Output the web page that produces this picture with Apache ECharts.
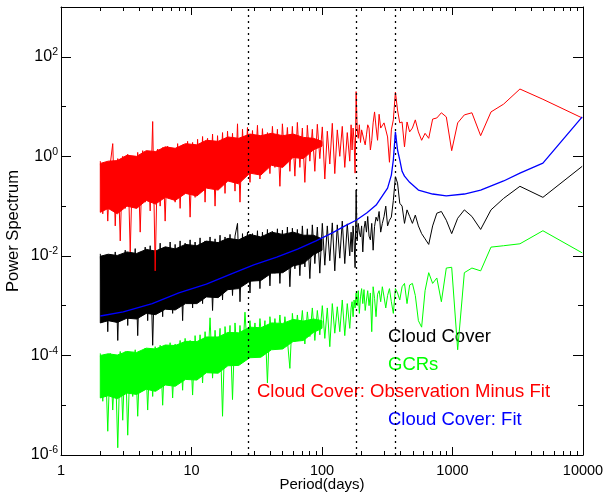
<!DOCTYPE html>
<html><head><meta charset="utf-8">
<script src="https://cdn.jsdelivr.net/npm/echarts@6/dist/echarts.min.js"></script>
<style>html,body{margin:0;padding:0;background:#fff}#c{width:607px;height:495px}</style>
</head><body><div id="c"></div>
<script>
// Periods (days): densely sampled short-period band, then the individual long-period Fourier bins
const densePeriods = [2,2.09,2.184,2.282,2.385,2.492,2.604,2.722,2.844,2.972,
3.106,3.246,3.392,3.545,3.704,3.871,4.045,4.227,4.417,4.616,
4.824,5.041,5.268,5.505,5.753,6.012,6.282,6.565,6.86,7.169,
7.492,7.829,8.181,8.549,8.934,9.336,9.756,10.195,10.654,11.133,
11.634,12.158,12.705,13.277,13.874,14.498,15.151,15.833,16.545,17.29,
18.068,18.881,19.731,20.619,21.546,22.516,23.529,24.588,25.694,26.85,
28.059,29.322,30.641,32.02,33.461,34.967,36.54,38.184,39.903,41.699,
43.575,45.536,47.585,49.726,51.964,54.302,56.746,59.3,61.968,64.757,
67.671,70.716,73.898,77.224,80.699,84.33,88.125,92.091,96.235,100.566,
105.091,109.82,114.762,119.926,125.323,130.963,136.856,143.015,149.45,156.176,
163.204];
const fourierPeriods = [167.1,170,173,176.1,179.3,182.6,186,189.6,193.3,197.2,
201.2,205.4,209.8,214.3,219.1,224.1,229.3,234.8,240.5,246.5,
252.8,259.5,266.5,273.9,281.7,290,298.8,308.1,318.1,328.7,
340,352.1,365.2,379.2,394.4,410.8,428.7,448.2,469.5,493,
518.9,547.8,580,616.3,657.3,704.3,758.5,821.7,896.4,986,
1095.6,1232.5,1408.6,1643.3,1972,2465,3286.7,4930,9860];

// Cloud Cover (black)
const cloudDense = [0.011,5e-4,0.01,3e-4,0.009,7e-4,0.012,2e-4,0.01,6e-4,
0.013,4e-4,0.011,8e-4,0.014,2.5e-4,0.012,9e-4,0.015,5e-4,
0.016,1.6e-4,0.013,1e-3,0.018,6e-4,0.015,1.2e-3,0.019,7e-4,
0.017,1.4e-3,0.02,5e-4,0.018,1.5e-3,0.021,9e-4,0.019,1.8e-3,
0.023,1.1e-3,0.02,2e-3,0.024,8e-4,0.022,2.3e-3,0.026,1.3e-3,
0.024,2.5e-3,0.027,1.6e-3,0.025,0.045,1.2e-3,0.028,3e-3,0.03,
1.8e-3,0.028,3.5e-3,0.032,2.2e-3,0.03,4e-3,0.034,2.5e-3,0.031,
4.5e-3,0.035,2.8e-3,0.033,5e-3,0.038,2.4e-3,0.036,5.5e-3,0.034,
4e-3,0.04,6e-3,0.035,3.5e-3,0.042,7e-3,0.038,4.5e-3,0.045,
6.5e-3,0.04,8e-3,0.046,5e-3,0.042,9e-3,0.05,7e-3,0.044,
0.01];
const cloudSparse = [0.03,0.012,0.04,0.02,5.8e-3,0.21,0.02,0.045,0.03,0.024,
0.04,0.012,0.035,0.05,0.03,0.062,0.025,0.021,0.045,0.013,
0.039,0.06,0.05,0.078,0.03,0.045,0.062,0.1,0.04,0.052,
0.06,0.13,0.39,0.29,0.114,0.1,0.045,0.084,0.062,0.045,
0.066,0.04,0.028,0.022,0.017,0.04,0.072,0.078,0.052,0.028,
0.057,0.084,0.062,0.034,0.084,0.143,0.25,0.15,0.63];

// GCRs (green)
const gcrDense = [1.1e-4,1.2e-5,1e-4,3e-6,1.1e-4,8e-6,9e-5,1.4e-6,1.2e-4,5e-6,
1.2e-4,2.5e-6,1.1e-4,1.5e-5,1.3e-4,6e-6,1.2e-4,2e-5,1.4e-4,8e-6,
1.3e-4,1.5e-5,1.5e-4,2.5e-5,1.6e-4,1e-5,1.5e-4,3e-5,1.8e-4,1.4e-5,
1.7e-4,3.5e-5,2e-4,2e-5,2.2e-4,4e-5,2e-4,1.6e-5,2.5e-4,4.5e-5,
2.6e-4,2.8e-5,3e-4,5.5e-5,5.7e-4,3.5e-5,3.2e-4,6e-5,3.5e-4,6e-6,
3.8e-4,7e-5,4e-4,1.3e-5,4.5e-4,8e-5,4e-4,9e-5,7.4e-4,1.1e-4,
5e-4,1.3e-4,4.5e-4,1e-4,5.5e-4,1.5e-4,5e-4,2.8e-5,6e-4,1.6e-4,
5.5e-4,1.8e-4,6.5e-4,1.4e-4,6e-4,2e-4,5.5e-5,7e-4,1.9e-4,6.5e-4,
2.2e-4,8e-4,1.7e-4,7.5e-4,2.4e-4,9e-4,2e-4,8e-4,2.6e-4,1e-3,
2.2e-4,9e-4,1.5e-4,1.1e-3,2.8e-4,9.5e-4,3e-4,1.3e-3,2.5e-4,1.1e-3,
3.5e-4];
const gcrSparse = [9e-4,1.2e-3,6e-4,1.3e-3,9e-4,1.8e-3,1e-3,2e-3,7e-4,1.5e-3,
2.2e-3,1.1e-3,2.1e-3,8e-4,1.3e-3,2e-3,1e-3,1.8e-3,3e-4,2.4e-3,
1.4e-3,6e-4,1.7e-3,2e-3,1.2e-3,2.4e-3,1.5e-3,9e-4,1.6e-3,2.2e-3,
1.2e-3,7e-4,2.2e-3,1.8e-3,1.3e-3,2.4e-3,2.8e-3,1.1e-3,2.6e-3,2.8e-3,
1.6e-3,5e-4,3.7e-4,2e-3,4.6e-3,2.8e-3,3.6e-3,1.2e-3,5.7e-3,5.9e-3,
1.3e-4,4.6e-3,5.7e-3,5e-3,1.5e-2,1.6e-2,1.75e-2,3.2e-2,1.15e-2];

// Cloud Cover: Observation Minus Fit (red)
const residDense = [0.8,0.07,0.75,0.05,0.7,1.8,0.04,0.9,0.02,1.0,
0.09,1.1,0.012,0.95,0.1,1.2,0.03,1.3,0.12,1.1,
0.08,5,0.005,1.4,0.1,1.5,0.05,1.6,0.15,1.3,
0.12,1.8,0.09,1.7,0.2,2.0,0.06,1.9,0.15,2.2,
0.2,2.5,0.12,2.3,0.25,2.8,0.1,2.6,0.3,3.0,
0.18,3.2,0.35,2.9,0.2,4.5,0.12,3.5,0.4,3.8,
0.3,3.3,0.5,4.2,0.35,3.6,0.55,3.0,0.45,4.0,
0.6,3.5,0.25,4.5,0.7,3.8,0.5,4.0,0.4,4.8,
0.6,3.7,0.3,4.2,0.8,3.5,0.5,4.4,0.9,3.9,
0.35,3.2,0.7,4.6,0.45,3.4,1.0,4.0,0.6,3.0,
0.8];
const residSparse = [4.3,1.34,3.7,2.1,0.46,20,3.7,2.3,4.3,1.9,
3.4,3.7,2.1,1.7,2.7,4.3,3.7,1.34,2.1,4.7,
7.8,3.9,2.1,7,3.7,3.4,4.7,4.3,2.45,0.76,
3.4,5.4,19.6,8.5,4.7,4.9,1.55,4.9,3.1,3.7,
5.4,3.1,2.1,2.9,2.3,5.6,5.9,7.5,6.2,1.3,
4.7,6.8,7.5,2.6,7.8,11.2,22.5,14,5.9];

// Solid core of the densely packed short-period spectra (upper / lower edge)
const bandPeriods = [2,2.3,2.7,3.2,3.8,4.5,5.3,6.3,7.5,9,11,13,16,19,23,28,34,41,50,60,72,86,100];
const cloudBandUpper = [0.0098,0.0108,0.0102,0.012,0.0112,0.0135,0.0125,0.0152,0.0138,0.017,0.016,0.0198,0.0185,0.0225,0.021,0.027,0.024,0.03,0.027,0.03,0.026,0.026,0.022];
const cloudBandLower = [4.5e-4,5e-4,4.6e-4,5.6e-4,5.4e-4,7e-4,6.6e-4,8.5e-4,8.2e-4,1.1e-3,1.1e-3,1.5e-3,1.45e-3,2.1e-3,2.2e-3,3.1e-3,3.2e-3,4.5e-3,4.6e-3,6.3e-3,7e-3,1.05e-2,1.3e-2];
const gcrBandUpper = [1e-4,1.08e-4,1.02e-4,1.2e-4,1.15e-4,1.4e-4,1.35e-4,1.62e-4,1.58e-4,1.92e-4,1.9e-4,2.35e-4,2.35e-4,2.9e-4,2.85e-4,3.7e-4,3.6e-4,4.5e-4,4.4e-4,5.3e-4,4.9e-4,5.4e-4,5e-4];
const gcrBandLower = [1.4e-5,1.55e-5,1.35e-5,1.75e-5,1.65e-5,2.1e-5,1.9e-5,2.55e-5,2.4e-5,3.3e-5,3.2e-5,4.5e-5,4.4e-5,6.2e-5,6.3e-5,9e-5,9.2e-5,1.3e-4,1.35e-4,1.9e-4,2e-4,2.9e-4,3.5e-4];
const residBandUpper = [0.72,0.8,0.82,1.05,1.0,1.3,1.25,1.55,1.45,1.8,1.7,2.1,2.0,2.45,2.3,2.8,2.6,2.9,2.6,2.8,2.4,2.3,2.0];
const residBandLower = [0.075,0.09,0.07,0.1,0.09,0.13,0.11,0.15,0.13,0.18,0.16,0.23,0.21,0.32,0.28,0.46,0.42,0.66,0.6,0.95,0.9,1.35,1.6];

// Cloud Cover: Fit (blue)
const fitPeriods = [2,3,5,8,13,20,30,45,65,90,120,150,182.6,220,260,290,318.1,340,352.1,365.2,379.2,394.4,410.8,428.7,469.5,547.8,704.3,896.4,1232.5,1643.3,2465,3286.7,4930,9860];
const fitValues = [6.2e-4,7.5e-4,1.1e-3,1.8e-3,2.7e-3,4.3e-3,6.6e-3,9.4e-3,1.37e-2,2e-2,2.9e-2,4e-2,5.2e-2,7.3e-2,0.105,0.16,0.23,0.42,0.85,3.1,1.34,0.85,0.5,0.4,0.3,0.21,0.175,0.16,0.175,0.21,0.32,0.46,0.73,6.2];

// Reference periods (dotted lines): solar rotation, half year, year
const markerPeriods = [27, 182.6, 365.2];

// Axis ticks
const xMajorTicks = [1,10,100,1000,10000];
const xMinorTicks = [2,3,4,5,6,7,8,9,20,30,40,50,60,70,80,90,200,300,400,500,600,700,800,900,2000,3000,4000,5000,6000,7000,8000,9000];
const yMajorTicks = [1e-6,1e-4,1e-2,1,1e2];
const yMinorTicks = [1e-5,1e-3,1e-1,10];

const legendLabels = ['Cloud Cover','GCRs','Cloud Cover: Observation Minus Fit','Cloud Cover: Fit'];

const periods = densePeriods.concat(fourierPeriods);
const cloud = cloudDense.concat(cloudSparse);
const gcr = gcrDense.concat(gcrSparse);
const resid = residDense.concat(residSparse);

const FONT = '"Liberation Sans", Arial, Helvetica, sans-serif';
const pair = (xs, ys) => xs.map((x, i) => [x, ys[i]]);

function xAx(pos, ticks, len, main) {
  return {
    type: 'log', logBase: 10, min: 1, max: 10000, position: pos,
    axisLine: {show: main, onZero: false, lineStyle: {color: '#000', width: 1}},
    axisTick: {show: true, inside: true, length: len, customValues: ticks, lineStyle: {color: '#000', width: 1}},
    axisLabel: (main && pos === 'bottom') ? {
      show: true, customValues: xMajorTicks, margin: 8, color: '#000', fontSize: 14.5, fontFamily: FONT,
      formatter: v => String(Math.round(v))
    } : {show: false},
    splitLine: {show: false}, minorTick: {show: false}, minorSplitLine: {show: false},
    name: (main && pos === 'bottom') ? 'Period(days)' : '',
    nameLocation: 'middle', nameGap: 22, nameMoveOverlap: false,
    nameTextStyle: {color: '#000', fontSize: 15, fontFamily: FONT}
  };
}
function yAx(pos, ticks, len, main) {
  return {
    type: 'log', logBase: 10, min: 1e-6, max: 1e3, position: pos,
    axisLine: {show: main, onZero: false, lineStyle: {color: '#000', width: 1}},
    axisTick: {show: true, inside: true, length: len, customValues: ticks, lineStyle: {color: '#000', width: 1}},
    axisLabel: (main && pos === 'left') ? {
      show: true, customValues: yMajorTicks, margin: 3,
      formatter: v => '{b|10}{s|' + Math.round(Math.log10(v)) + '}',
      rich: {
        b: {fontSize: 16, fontFamily: FONT, color: '#000', lineHeight: 20},
        s: {fontSize: 10.5, fontFamily: FONT, color: '#000', lineHeight: 12, verticalAlign: 'top'}
      }
    } : {show: false},
    splitLine: {show: false}, minorTick: {show: false}, minorSplitLine: {show: false},
    name: (main && pos === 'left') ? 'Power Spectrum' : '',
    nameLocation: 'middle', nameGap: 39, nameMoveOverlap: false,
    nameTextStyle: {color: '#000', fontSize: 16.5, fontFamily: FONT}
  };
}

const lineSeries = (name, data, color, z, width) => ({
  name, type: 'line', data, showSymbol: false, symbol: 'none', z,
  lineStyle: {color, width: width || 1}, itemStyle: {color},
  emphasis: {disabled: true}, animation: false, clip: true
});

const bandSeries = (upper, lower, color, z) => ({
  type: 'custom', coordinateSystem: 'cartesian2d', z, silent: true, animation: false,
  data: [[bandPeriods[0], upper[0]]],
  renderItem: (params, api) => {
    const pts = [];
    for (let i = 0; i < bandPeriods.length; i++) pts.push(api.coord([bandPeriods[i], upper[i]]));
    for (let i = bandPeriods.length - 1; i >= 0; i--) pts.push(api.coord([bandPeriods[i], lower[i]]));
    return {type: 'polygon', shape: {points: pts}, style: {fill: color, stroke: color, lineWidth: 1}};
  }
});

const cloudSeries = lineSeries(legendLabels[0], pair(periods, cloud), '#000000', 2);
cloudSeries.markLine = {
  symbol: 'none', silent: true, label: {show: false}, animation: false,
  lineStyle: {color: '#000', type: [2, 4], width: 1.3},
  emphasis: {disabled: true},
  data: markerPeriods.map(p => ({xAxis: p}))
};

const option = {
  animation: false,
  backgroundColor: '#fff',
  grid: {left: 61, right: 24, top: 7, bottom: 40, containLabel: false, outerBoundsMode: 'none'},
  xAxis: [
    xAx('bottom', xMajorTicks, 8, true),
    xAx('bottom', xMinorTicks, 4, false),
    xAx('top', xMajorTicks, 8, true),
    xAx('top', xMinorTicks, 4, false)
  ],
  yAxis: [
    yAx('left', yMajorTicks, 10, true),
    yAx('left', yMinorTicks, 5, false),
    yAx('right', yMajorTicks, 10, true),
    yAx('right', yMinorTicks, 5, false)
  ],
  series: [
    bandSeries(cloudBandUpper, cloudBandLower, '#000000', 2),
    cloudSeries,
    bandSeries(gcrBandUpper, gcrBandLower, '#00ff00', 3),
    lineSeries(legendLabels[1], pair(periods, gcr), '#00ff00', 3),
    bandSeries(residBandUpper, residBandLower, '#ff0000', 4),
    lineSeries(legendLabels[2], pair(periods, resid), '#ff0000', 4),
    lineSeries(legendLabels[3], pair(fitPeriods, fitValues), '#0000ff', 5, 1.3)
  ],
  graphic: [
    {type: 'text', x: 388, y: 337, style: {text: legendLabels[0], fill: '#000000', font: '18.5px ' + FONT, verticalAlign: 'middle'}},
    {type: 'text', x: 388, y: 365, style: {text: legendLabels[1], fill: '#00ff00', font: '18.5px ' + FONT, verticalAlign: 'middle'}},
    {type: 'text', x: 257, y: 392, style: {text: legendLabels[2], fill: '#ff0000', font: '18.5px ' + FONT, verticalAlign: 'middle'}},
    {type: 'text', x: 388, y: 420, style: {text: legendLabels[3], fill: '#0000ff', font: '18.5px ' + FONT, verticalAlign: 'middle'}}
  ]
};

const chart = echarts.init(document.getElementById('c'), null, {renderer: 'canvas'});
chart.setOption(option);
</script>
</body></html>
